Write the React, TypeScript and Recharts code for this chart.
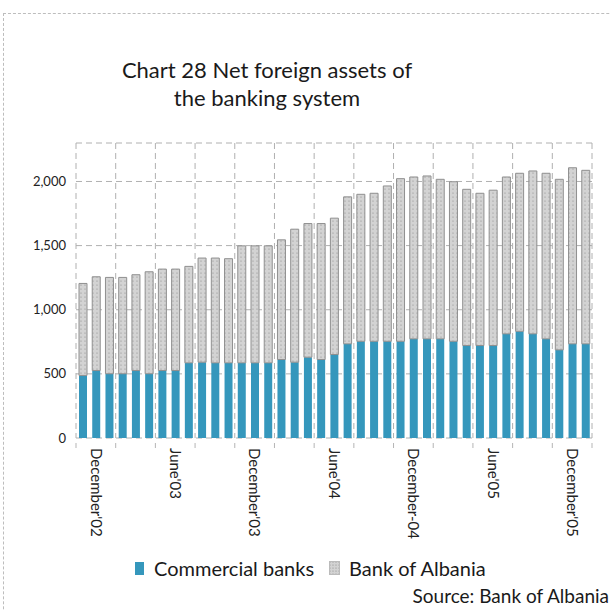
import { BarChart, Bar, XAxis, YAxis, CartesianGrid } from 'recharts';

const months = [
    "Nov'02", "December'02", "Jan'03", "Feb'03", "Mar'03", "Apr'03", "May'03", "June'03",
    "Jul'03", "Aug'03", "Sep'03", "Oct'03", "Nov'03", "December'03", "Jan'04", "Feb'04",
    "Mar'04", "Apr'04", "May'04", "June'04", "Jul'04", "Aug'04", "Sep'04", "Oct'04",
    "Nov'04", "December-04", "Jan'05", "Feb'05", "Mar'05", "Apr'05", "May'05", "June'05",
    "Jul'05", "Aug'05", "Sep'05", "Oct'05", "Nov'05", "December'05", "Jan'06",
];

const shownTicks = ["December'02", "June'03", "December'03", "June'04", "December-04", "June'05", "December'05"];

const commercialBanks = [
    488, 526, 501, 501, 526, 501, 526, 526, 586, 591, 586, 586, 586, 586, 586, 612,
    591, 630, 612, 651, 734, 754, 754, 754, 754, 773, 773, 773, 754, 721, 721, 721,
    812, 832, 812, 773, 687, 734, 734,
];

const bankOfAlbania = [
    717, 731, 751, 751, 747, 795, 791, 791, 752, 812, 817, 812, 912, 912, 912, 933,
    1037, 1042, 1060, 1063, 1146, 1146, 1154, 1211, 1268, 1262, 1270, 1244, 1244, 1218, 1187, 1211,
    1223, 1232, 1270, 1291, 1330, 1373, 1353,
];

const yTicks = [0, 500, 1000, 1500, 2000, 2300];

const data = months.map((m, i) => ({
    month: m,
    commercial: commercialBanks[i],
    boa: bankOfAlbania[i],
}));

const FONT = 'Lato, "Open Sans", sans-serif';
const CHART_W = 611;
const CHART_H = 540;
const MARGIN = { top: 143, right: 19, left: 16, bottom: 2 };
const Y_W = 60;
const PLOT_W = CHART_W - MARGIN.left - MARGIN.right - Y_W;

const XTick = (props: any) => {
    const { x, y, payload, index } = props;
    const step = PLOT_W / months.length;
    const label = payload.value as string;
    return (
        <g>
            {index % 3 === 0 && (
                <line x1={x - step / 2} x2={x - step / 2} y1={y + 3} y2={y + 8} stroke="#b5b5b5" />
            )}
            {index === months.length - 1 && (
                <line x1={x + step / 2} x2={x + step / 2} y1={y + 3} y2={y + 8} stroke="#b5b5b5" />
            )}
            {shownTicks.includes(label) && (
                <text
                    transform={`translate(${x},${y + 8}) rotate(90)`}
                    dy="0.35em"
                    textAnchor="start"
                    fontSize={15}
                    fontFamily={FONT}
                    fill="#222"
                >
                    {label}
                </text>
            )}
        </g>
    );
};

export default function App() {
    return (
        <div style={{ position: 'absolute', left: 0, top: 0, width: 611, height: 610, overflow: 'hidden', background: '#fff', fontFamily: FONT }}>
            <div style={{ position: 'absolute', left: 3, top: 13, width: 700, height: 700, borderTop: '1px dashed #bdbdbd', borderLeft: '1px dashed #bdbdbd' }} />
            <div style={{ position: 'absolute', left: 0, top: 56, width: 534, textAlign: 'center', fontSize: 22, lineHeight: '28px', color: '#1a1a1a' }}>
                Chart 28 Net foreign assets of<br />the banking system
            </div>
            <div style={{ position: 'absolute', left: 0, top: 0 }}>
                <BarChart width={CHART_W} height={CHART_H} data={data} margin={MARGIN} barSize={8}>
                    <defs>
                        <pattern id="dots" width="4" height="4" patternUnits="userSpaceOnUse">
                            <rect width="4" height="4" fill="#d3d3d3" />
                            <circle cx="1" cy="1" r="0.6" fill="#8a8a8a" />
                        </pattern>
                    </defs>
                    <CartesianGrid
                        stroke="#b0b0b0"
                        strokeDasharray="6 4"
                        verticalCoordinatesGenerator={({ offset }: any) => {
                            const step = offset.width / months.length;
                            return Array.from({ length: months.length / 3 + 1 }, (_, k) => offset.left + k * 3 * step);
                        }}
                    />
                    <XAxis
                        dataKey="month"
                        interval={0}
                        height={100}
                        axisLine={false}
                        tickLine={false}
                        tickSize={0}
                        tick={<XTick />}
                    />
                    <YAxis
                        width={Y_W}
                        domain={[0, 2300]}
                        ticks={yTicks}
                        axisLine={false}
                        tickLine={false}
                        tickSize={0}
                        tickMargin={10}
                        tick={{ fontSize: 13, fill: '#222', fontFamily: FONT }}
                        tickFormatter={(v: number) => (v === 2300 ? '' : v.toLocaleString('en-US'))}
                    />
                    <Bar dataKey="commercial" stackId="a" fill="#3597bc" isAnimationActive={false} />
                    <Bar dataKey="boa" stackId="a" fill="url(#dots)" stroke="#8f8f8f" strokeWidth={1} isAnimationActive={false} />
                </BarChart>
            </div>
            <div style={{ position: 'absolute', left: 135, top: 556, display: 'flex', alignItems: 'center', fontSize: 20, color: '#1a1a1a', whiteSpace: 'nowrap' }}>
                <span style={{ display: 'inline-block', width: 9, height: 13, background: '#3597bc', marginRight: 10 }} />
                <span>Commercial banks</span>
                <svg width={11} height={14} style={{ marginLeft: 15, marginRight: 9 }}>
                    <defs>
                        <pattern id="dotsLegend" width="3" height="3" patternUnits="userSpaceOnUse">
                            <rect width="3" height="3" fill="#d3d3d3" />
                            <circle cx="1" cy="1" r="0.6" fill="#8a8a8a" />
                        </pattern>
                    </defs>
                    <rect x={0.5} y={0.5} width={10} height={13} fill="url(#dotsLegend)" stroke="#bbb" />
                </svg>
                <span>Bank of Albania</span>
            </div>
            <div style={{ position: 'absolute', right: 2, top: 585, fontSize: 19, lineHeight: '22px', color: '#1a1a1a', whiteSpace: 'nowrap' }}>
                Source: Bank of Albania
            </div>
        </div>
    );
}
